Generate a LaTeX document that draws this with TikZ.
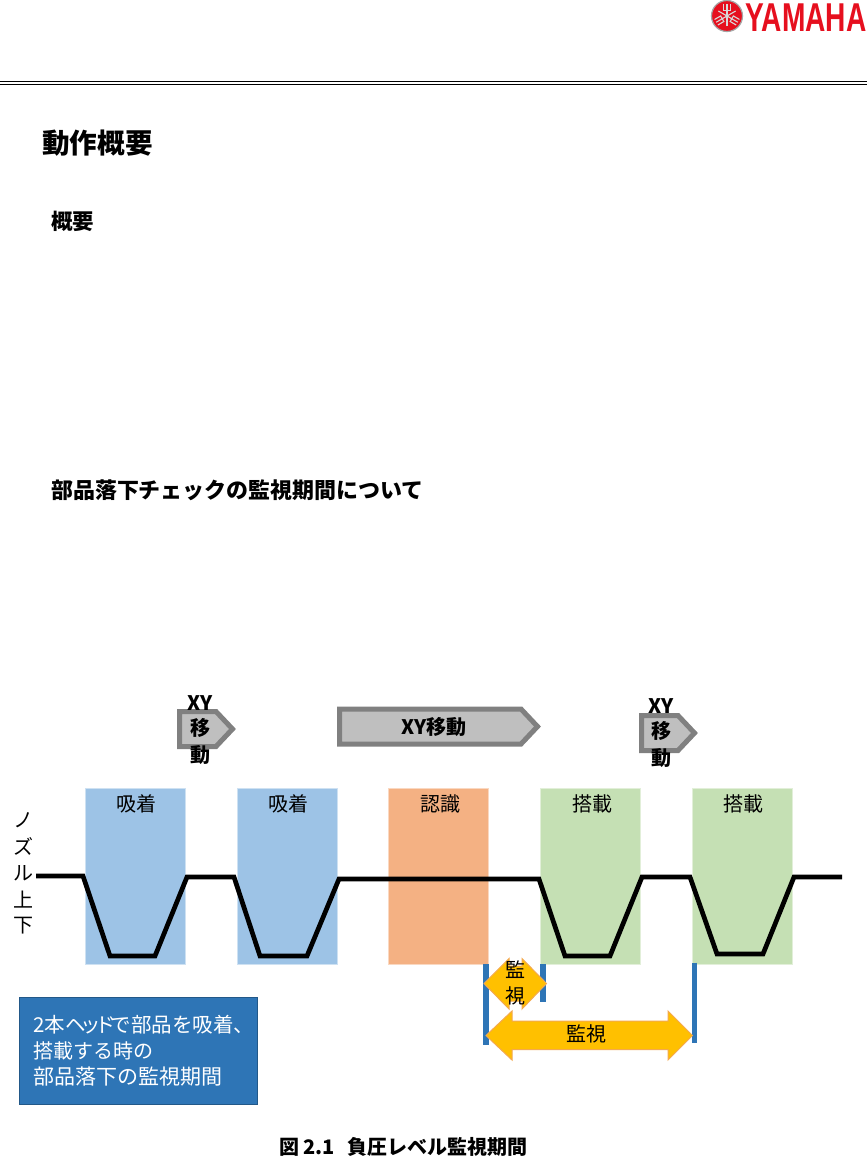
\documentclass[tikz,border=0pt]{standalone}
\usepackage{fontspec}
\setmainfont{Noto Sans CJK JP}
\newfontfamily\logofont{Liberation Sans}[BoldFont={Liberation Sans Bold},FakeStretch=1]
\definecolor{yblue}{HTML}{9DC3E6}
\definecolor{yorange}{HTML}{F4B183}
\definecolor{ygreen}{HTML}{C5E0B4}
\definecolor{ybar}{HTML}{2E75B6}
\definecolor{ygold}{HTML}{FFC000}
\definecolor{yedge}{HTML}{F4A94E}
\definecolor{yred}{HTML}{E60F1E}
\tikzset{
  x=1pt,y=-1pt,
  band/.style={draw=white!50!#1,line width=.6pt,fill=#1},
  nozzle/.style={draw=black,line width=4.7pt,line join=miter,miter limit=3},
  movearrow/.style={draw=black!50,line width=5pt,fill=black!25,line join=miter},
  goldarrow/.style={draw=yedge,line width=1pt,fill=ygold,line join=miter},
  monitorbar/.style={draw=ybar,line width=5.4pt},
  txt/.style={inner sep=0pt,font=\fontsize{20}{20}\selectfont,text=black},
  btxt/.style={inner sep=0pt,font=\fontsize{20}{20}\selectfont\bfseries,text=black},
  headtxt/.style={inner sep=0pt,anchor=west,font=\fontsize{#1}{#1}\selectfont\bfseries,text=black},
  notetxt/.style={inner sep=0pt,anchor=west,text=white,font=\fontsize{#1}{#1}\selectfont},
}
\begin{document}
\begin{tikzpicture}
\useasboundingbox (0,0) rectangle (867,1157);
\fill[white] (0,0) rectangle (867,1157);
% header
\draw[black,line width=1.6pt] (0,81.6) -- (867,81.6);
\draw[black,line width=1pt] (0,84.6) -- (867,84.6);
% logo
\fill[yred] (727,16) circle (15.5);
\draw[black!35,line width=1.2pt] (727,16) circle (15.5);
\begin{scope}[shift={(727,16)}]
\foreach \a in {0,120,240}{
  \begin{scope}[rotate=\a]
    \draw[white!85!black,line width=1.1pt] (0,10) -- (0,-12.5) (-3.2,-12.5) -- (-3.2,-5.5) -- (3.2,-5.5) -- (3.2,-12.5);
  \end{scope}
}
\end{scope}
\node[inner sep=0pt,anchor=center,text=yred,font=\logofont\bfseries\fontsize{38}{38}\selectfont,xscale=.74,yscale=1.06] (logotext) at (806,17.5) {YAMAHA};
% headings
\node[headtxt=27.6] (title) at (42,143) {動作概要};
\node[headtxt=21.5] (sub1) at (51,221) {概要};
\node[headtxt=21.95] (sub2) at (51,490) {部品落下チェックの監視期間について};
% bands
\path[band=yblue] (85,788) rectangle (185,964);
\path[band=yblue] (237,788) rectangle (337,964);
\path[band=yorange] (388,788) rectangle (488,964);
\path[band=ygreen] (540,788) rectangle (640.5,964);
\path[band=ygreen] (692,788) rectangle (792,964);
\node[txt] (b1) at (136,803.5) {吸着};
\node[txt] (b2) at (288,803.5) {吸着};
\node[txt] (b3) at (440,803.5) {認識};
\node[txt] (b4) at (592,803.5) {搭載};
\node[txt] (b5) at (743,803.5) {搭載};
% nozzle line
\draw[nozzle] (36,876) -- (83,876) -- (110,956) -- (155,956) -- (187,877) -- (234,877) -- (260,956) -- (307,956) -- (339,879) -- (539,879) -- (565,956) -- (610,956) -- (642,877) -- (690,877) -- (717,954) -- (763,954) -- (794,877) -- (842,877);
% nozzle label
\node[txt] (n1) at (23,820) {ノ};
\node[txt] (n2) at (23,846.5) {ズ};
\node[txt] (n3) at (23,873) {ル};
\node[txt] (n4) at (23,899.5) {上};
\node[txt] (n5) at (23,926) {下};
% move arrows
\draw[movearrow] (179.5,711.5) -- (216,711.5) -- (232.5,729) -- (216,746.5) -- (179.5,746.5) -- cycle;
\draw[movearrow] (339.5,709) -- (521,709) -- (537.5,726.5) -- (521,744) -- (339.5,744) -- cycle;
\draw[movearrow] (641.5,715.5) -- (678,715.5) -- (694.5,733) -- (678,750.5) -- (641.5,750.5) -- cycle;
\node[btxt] (x1a) at (200.5,703) {XY};
\node[btxt] (x1b) at (200.5,728) {移};
\node[btxt] (x1c) at (200.5,755) {動};
\node[btxt] (x2) at (434,727) {XY移動};
\node[btxt] (x3a) at (661.5,706) {XY};
\node[btxt] (x3b) at (661.5,731) {移};
\node[btxt] (x3c) at (661.5,758) {動};
% monitoring bars
\draw[monitorbar] (486,964) -- (486,1044.5);
\draw[monitorbar] (543,964) -- (543,1001.5);
\draw[monitorbar] (694.5,962.5) -- (694.5,1043);
% gold arrows
\draw[goldarrow] (484,983.5) -- (509,958.5) -- (509,966) -- (522,966) -- (522,958.5) -- (546.5,983.5) -- (522,1009) -- (522,1001) -- (509,1001) -- (509,1009) -- cycle;
\draw[goldarrow] (486,1035.5) -- (512,1011) -- (512,1021) -- (668,1021) -- (668,1011) -- (692.5,1035.5) -- (668,1060) -- (668,1049.5) -- (512,1049.5) -- (512,1060) -- cycle;
\node[txt] (m1) at (515,970) {監};
\node[txt] (m2) at (515,996) {視};
\node[txt] (m3) at (586,1034) {監視};
% blue note
\node[draw=ybar!75!black,line width=1pt,fill=ybar,minimum width=238pt,minimum height=107pt,inner sep=0pt,anchor=north west] (note) at (19,997) {};
\node[notetxt=20.5] (l1) at (33,1025) {2本ヘ\kern-5ptッ\kern-6ptド\kern-5ptで部品を吸着、};
\node[notetxt=20] (l2) at (33,1051) {搭載する時の};
\node[notetxt=21] (l3) at (33,1077) {部品落下の監視期間};
% caption
\node[inner sep=0pt,anchor=west,text=black,font=\fontsize{20}{20}\selectfont\bfseries] (cap) at (279,1147) {図 2.1\hspace{.6em}負圧レベル監視期間};
\end{tikzpicture}
\end{document}
